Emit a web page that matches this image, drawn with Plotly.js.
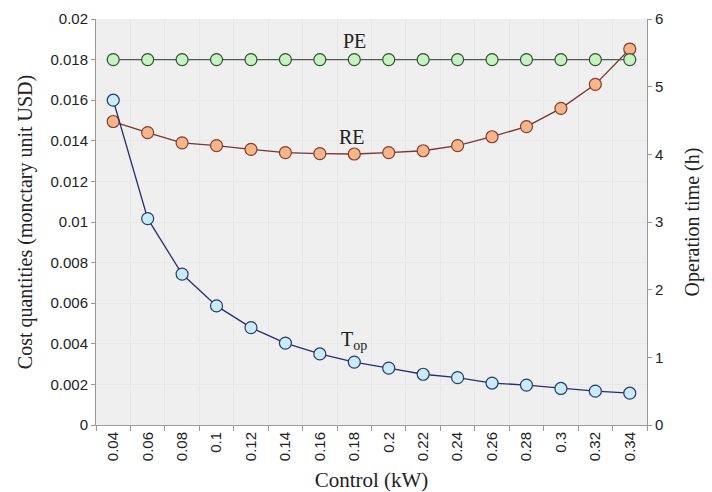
<!DOCTYPE html>
<html>
<head>
<meta charset="utf-8">
<script src="https://cdn.plot.ly/plotly-3.0.1.min.js"></script>
<style>html,body{margin:0;padding:0;background:#fff;}#chart{width:712px;height:492px;}</style>
</head>
<body>
<div id="chart"></div>
<script>
const controlKW = ["0.04","0.06","0.08","0.1","0.12","0.14","0.16","0.18","0.2","0.22","0.24","0.26","0.28","0.3","0.32","0.34"];
const peCost = [0.018,0.018,0.018,0.018,0.018,0.018,0.018,0.018,0.018,0.018,0.018,0.018,0.018,0.018,0.018,0.018];
const reCost = [0.01495,0.0144,0.0139,0.01376,0.01358,0.01342,0.01337,0.01335,0.01342,0.01351,0.01376,0.0142,0.0147,0.0156,0.01678,0.01852];
const topHours = [4.80,3.05,2.23,1.76,1.44,1.21,1.05,0.93,0.84,0.75,0.70,0.62,0.59,0.54,0.50,0.47];
const leftTickVals = [0,0.002,0.004,0.006,0.008,0.01,0.012,0.014,0.016,0.018,0.02];
const leftTickText = ["0","0.002","0.004","0.006","0.008","0.01","0.012","0.014","0.016","0.018","0.02"];
const rightTickVals = [0,1,2,3,4,5,6];

const serif = "Liberation Serif, Times New Roman, serif";
const sans = "Liberation Sans, Arial, sans-serif";

const traces = [
  {x: controlKW, y: reCost, type: "scatter", mode: "lines+markers", name: "RE",
   line: {color: "#7a3530", width: 1.3},
   marker: {size: 12, color: "#f6b68c", line: {color: "#8a3a2a", width: 1.2}}},
  {x: controlKW, y: peCost, type: "scatter", mode: "lines+markers", name: "PE",
   line: {color: "#4d5a4d", width: 1.3},
   marker: {size: 12, color: "#c8f2c4", line: {color: "#2f4f2f", width: 1.2}}},
  {x: controlKW, y: topHours, type: "scatter", mode: "lines+markers", name: "Top", yaxis: "y2",
   line: {color: "#2b2e6e", width: 1.3},
   marker: {size: 12, color: "#c9ecfb", line: {color: "#2b3a6a", width: 1.2}}}
];

const layout = {
  width: 712, height: 492,
  margin: {l: 96, r: 65, t: 19, b: 67},
  paper_bgcolor: "#ffffff",
  plot_bgcolor: "#efefef",
  showlegend: false,
  font: {family: sans, color: "#222", size: 15},
  xaxis: {
    type: "category",
    tickangle: -90,
    tickson: "boundaries",
    ticks: "outside", ticklen: 5, tickcolor: "#999",
    showline: true, linecolor: "#999", linewidth: 1,
    showgrid: true, gridcolor: "#e6e6e6",
    tickfont: {family: sans, size: 15, color: "#222"},
    title: {text: "Control (kW)", font: {family: serif, size: 21, color: "#222"}, standoff: 14},
    range: [-0.5, 15.5]
  },
  yaxis: {
    range: [0, 0.02],
    tickvals: leftTickVals, ticktext: leftTickText,
    ticks: "outside", ticklen: 4, tickcolor: "#999",
    showline: true, linecolor: "#999", linewidth: 1,
    showgrid: true, gridcolor: "#e8e8e8", zeroline: false,
    tickfont: {family: sans, size: 15, color: "#222"},
    title: {text: "Cost quantities (monctary unit USD)", font: {family: serif, size: 20, color: "#222"}, standoff: 12}
  },
  yaxis2: {
    range: [0, 6], overlaying: "y", side: "right",
    tickvals: rightTickVals,
    ticks: "outside", ticklen: 4, tickcolor: "#999",
    showline: true, linecolor: "#999", linewidth: 1,
    showgrid: false, zeroline: false,
    tickfont: {family: sans, size: 15, color: "#222"},
    title: {text: "Operation time (h)", font: {family: serif, size: 20, color: "#222"}, standoff: 22}
  },
  annotations: [
    {xref: "paper", yref: "paper", x: 0.47, y: 0.978, text: "PE", showarrow: false,
     font: {family: serif, size: 20, color: "#222"}},
    {xref: "paper", yref: "paper", x: 0.465, y: 0.741, text: "RE", showarrow: false,
     font: {family: serif, size: 20, color: "#222"}},
    {xref: "paper", yref: "paper", x: 0.468, y: 0.173, text: "T<sub>op</sub>", showarrow: false,
     font: {family: serif, size: 20, color: "#222"}}
  ]
};

Plotly.newPlot("chart", traces, layout, {staticPlot: true, displayModeBar: false});
</script>
</body>
</html>
